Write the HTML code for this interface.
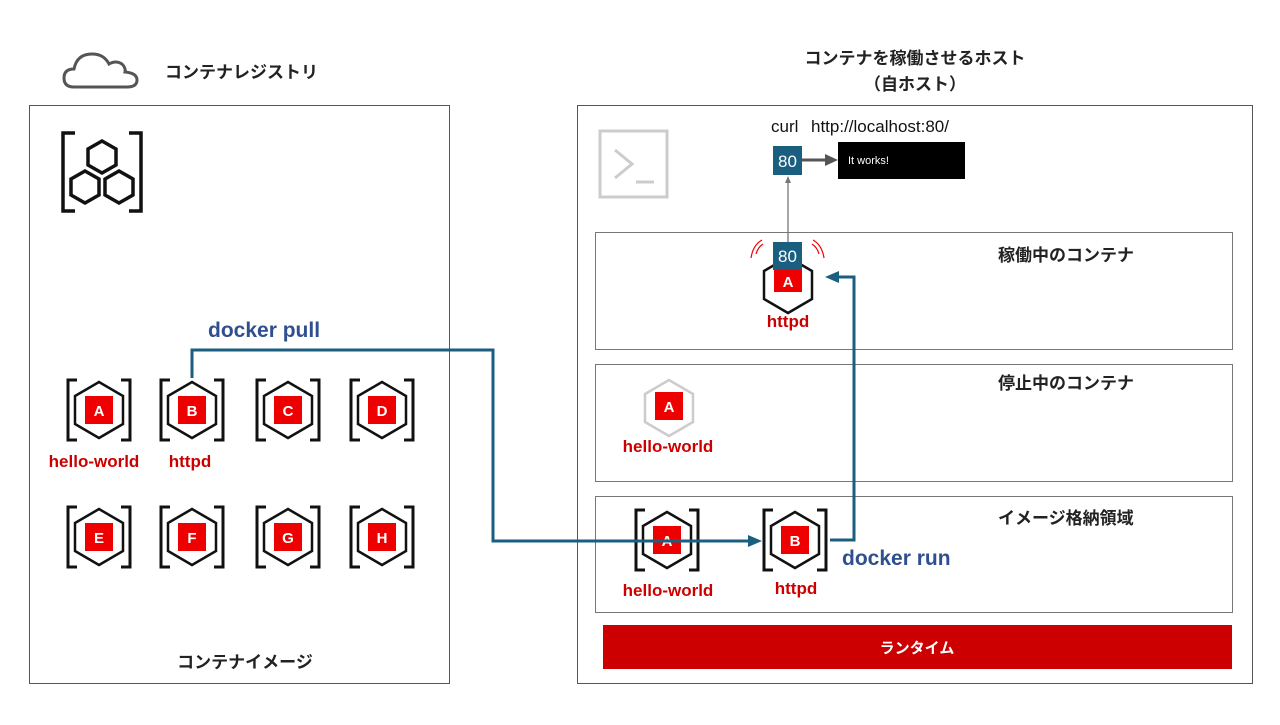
<!DOCTYPE html>
<html><head><meta charset="utf-8"><style>
body{margin:0;background:#fff}
svg text{font-family:"Liberation Sans","Noto Sans CJK JP",sans-serif}
</style></head><body>
<svg width="1280" height="720" viewBox="0 0 1280 720" xmlns="http://www.w3.org/2000/svg">
<defs>
<g id="img">
<path d="M-22,-30 H-31 V30 H-22 M22,-30 H31 V30 H22" fill="none" stroke="#111" stroke-width="3"/>
<polygon points="0,-28 24,-14 24,14 0,28 -24,14 -24,-14" fill="none" stroke="#111" stroke-width="2.5"/>
<rect x="-14" y="-14" width="28" height="28" fill="#e00"/>
</g>
</defs>
<path d="M74,87 Q64,87 64,78 Q64,69 74,69 Q77,54 92,54 Q104,54 109,64 Q116,60 122,64 Q126,68 125,72 Q137,73 137,80 Q137,87 127,87 Z" fill="none" stroke="#555" stroke-width="3"/>
<text x="165" y="78" font-size="17" font-weight="bold" fill="#222">コンテナレジストリ</text>
<rect x="29.5" y="105.5" width="420" height="578" fill="none" stroke="#555"/>
<g fill="none" stroke="#111" stroke-width="3.5">
<path d="M75,133 H63 V211 H75 M129,133 H141 V211 H129"/>
<polygon points="102,141 116,149 116,165 102,173 88,165 88,149"/>
<polygon points="85,171 99,179 99,195 85,203 71,195 71,179"/>
<polygon points="119,171 133,179 133,195 119,203 105,195 105,179"/>
</g>
<g font-size="15" font-weight="bold" fill="#fff" text-anchor="middle">
<use href="#img" x="99" y="410"/><text x="99" y="416">A</text>
<use href="#img" x="192" y="410"/><text x="192" y="416">B</text>
<use href="#img" x="288" y="410"/><text x="288" y="416">C</text>
<use href="#img" x="382" y="410"/><text x="382" y="416">D</text>
<use href="#img" x="99" y="537"/><text x="99" y="543">E</text>
<use href="#img" x="192" y="537"/><text x="192" y="543">F</text>
<use href="#img" x="288" y="537"/><text x="288" y="543">G</text>
<use href="#img" x="382" y="537"/><text x="382" y="543">H</text>
</g>
<g font-size="17" font-weight="bold" fill="#c00" text-anchor="middle">
<text x="94" y="467">hello-world</text>
<text x="190" y="467">httpd</text>
</g>
<text x="245" y="668" font-size="17" font-weight="bold" fill="#222" text-anchor="middle">コンテナイメージ</text>
<text x="208" y="337" font-size="21" font-weight="bold" fill="#2f4f8f">docker pull</text>

<text x="915" y="64" font-size="17" font-weight="bold" fill="#222" text-anchor="middle">コンテナを稼働させるホスト</text>
<text x="915" y="90" font-size="17" font-weight="bold" fill="#222" text-anchor="middle">（自ホスト）</text>
<rect x="577.5" y="105.5" width="675" height="578" fill="none" stroke="#555"/>
<rect x="600" y="131" width="67" height="66" fill="none" stroke="#ccc" stroke-width="3"/>
<path d="M615,150 L632,164 L615,178 M636,182 H654" fill="none" stroke="#ccc" stroke-width="3"/>
<text x="771" y="132" font-size="17" fill="#111">curl</text>
<text x="811" y="132" font-size="17" fill="#111">http://localhost:80/</text>
<rect x="773" y="146" width="29" height="29" fill="#1a5e80"/>
<text x="787.5" y="167" font-size="17" fill="#fff" text-anchor="middle">80</text>
<line x1="802" y1="160" x2="826" y2="160" stroke="#555" stroke-width="3"/>
<polygon points="838,160 825,154 825,166" fill="#555"/>
<rect x="838" y="142" width="127" height="37" fill="#000"/>
<text x="848" y="164" font-size="11" fill="#fff">It works!</text>
<line x1="788" y1="244" x2="788" y2="180" stroke="#777" stroke-width="1.3"/>
<polygon points="788,176 785,183 791,183" fill="#777"/>

<rect x="595.5" y="232.5" width="637" height="117" fill="none" stroke="#777"/>
<text x="998" y="261" font-size="17" font-weight="bold" fill="#222">稼働中のコンテナ</text>
<polygon points="788,257 812,271 812,299 788,313 764,299 764,271" fill="#fff" stroke="#111" stroke-width="2.5"/>
<rect x="774" y="268" width="28" height="24" fill="#e00"/>
<rect x="773" y="242" width="29" height="28" fill="#1a5e80"/>
<text x="787.5" y="262" font-size="17" fill="#fff" text-anchor="middle">80</text>
<text x="788" y="287" font-size="15" font-weight="bold" fill="#fff" text-anchor="middle">A</text>
<path d="M756,254 Q758,247 763,244 M751,258 Q753,245 762,240 M812,244 Q817,247 819,254 M813,240 Q822,245 824,258" fill="none" stroke="#e00" stroke-width="1.2"/>
<text x="788" y="327" font-size="17" font-weight="bold" fill="#c00" text-anchor="middle">httpd</text>

<rect x="595.5" y="364.5" width="637" height="117" fill="none" stroke="#777"/>
<text x="998" y="389" font-size="17" font-weight="bold" fill="#222">停止中のコンテナ</text>
<polygon points="669,380 693,394 693,422 669,436 645,422 645,394" fill="none" stroke="#ccc" stroke-width="2.5"/>
<rect x="655" y="392" width="28" height="28" fill="#e00"/>
<text x="669" y="412" font-size="15" font-weight="bold" fill="#fff" text-anchor="middle">A</text>
<text x="668" y="452" font-size="17" font-weight="bold" fill="#c00" text-anchor="middle">hello-world</text>

<rect x="595.5" y="496.5" width="637" height="116" fill="none" stroke="#777"/>
<text x="998" y="524" font-size="17" font-weight="bold" fill="#222">イメージ格納領域</text>
<g font-size="15" font-weight="bold" fill="#fff" text-anchor="middle">
<use href="#img" x="667" y="540"/><text x="667" y="546">A</text>
<use href="#img" x="795" y="540"/><text x="795" y="546">B</text>
</g>
<text x="668" y="596" font-size="17" font-weight="bold" fill="#c00" text-anchor="middle">hello-world</text>
<text x="796" y="594" font-size="17" font-weight="bold" fill="#c00" text-anchor="middle">httpd</text>
<text x="842" y="565" font-size="21" font-weight="bold" fill="#2f4f8f">docker run</text>

<rect x="603" y="625" width="629" height="44" fill="#c00"/>
<text x="917" y="653" font-size="15" font-weight="bold" fill="#fff" text-anchor="middle">ランタイム</text>

<path d="M192,378 V350 H493 V541 H750" fill="none" stroke="#1a5e80" stroke-width="3"/>
<polygon points="762,541 748,535 748,547" fill="#1a5e80"/>
<path d="M830,540 H854 V277 H838" fill="none" stroke="#1a5e80" stroke-width="3"/>
<polygon points="825,277 839,271 839,283" fill="#1a5e80"/>
</svg>
</body></html>
